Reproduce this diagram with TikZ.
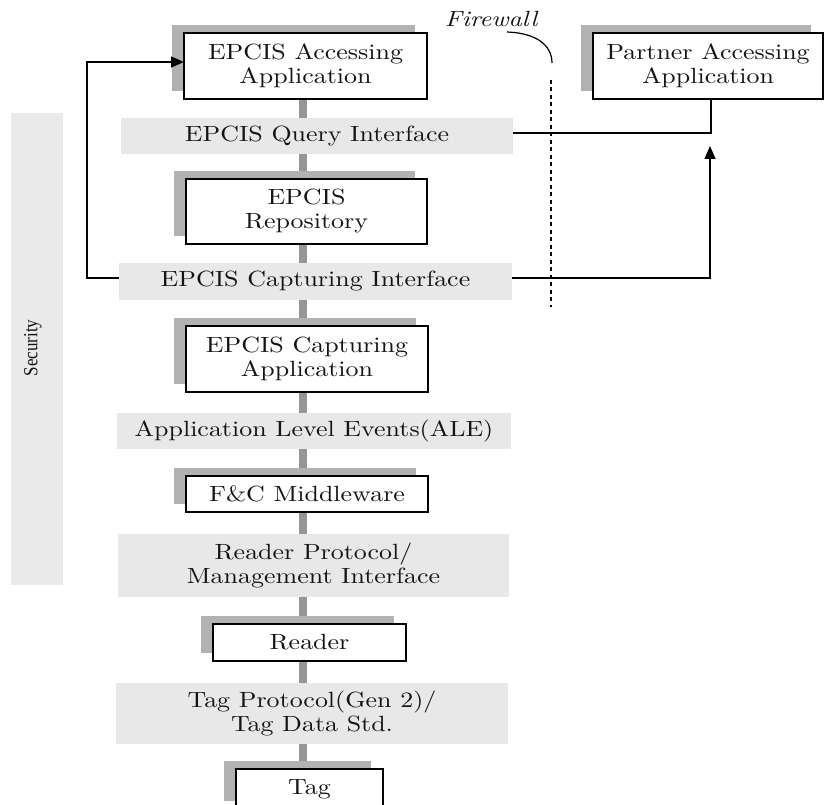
\documentclass[tikz,border=0pt]{standalone}
\usepackage{fontspec}
\setmainfont{lmroman10-regular}[Extension=.otf, FakeStretch=1.18, ItalicFont=lmroman10-italic, BoldFont=lmroman10-bold]
\newfontfamily\secfont{Liberation Serif}[FakeStretch=0.85]
\usetikzlibrary{arrows.meta, shadows, backgrounds}
\definecolor{shadowc}{RGB}{178,178,178}
\definecolor{barc}{RGB}{150,150,150}
\definecolor{bandc}{RGB}{232,232,232}
\definecolor{secc}{RGB}{234,234,234}
\definecolor{txt}{RGB}{20,20,20}
\begin{document}
\begin{tikzpicture}[x=1pt,y=-1pt,
  every node/.style={inner sep=0pt, outer sep=0pt},
  main/.style={font=\fontsize{22}{24}\selectfont, text=txt, align=center},
  appbox/.style={main, draw=black, line width=1.2pt, fill=white,
    general shadow={fill=shadowc, shadow xshift=-12pt, shadow yshift=8pt}},
  band/.style={main, fill=bandc},
  bar/.style={draw=barc, line width=8pt},
  link/.style={draw=black, line width=1.4pt},
  arr/.style={link, -{Triangle[length=13pt,width=11pt]}},
  fwline/.style={draw=black, line width=1.3pt, dash pattern=on 4pt off 3.5pt},
]
\useasboundingbox (0,0) rectangle (825,805);

% security band
\node[fill=secc, minimum width=52pt, minimum height=472pt] (sec) at (37,349) {};
\node[rotate=90, font=\secfont\fontsize{20}{20}\selectfont, text=txt] (sectxt) at (33,348) {Security};

% main stack
\node[appbox, minimum width=243pt, minimum height=66pt] (acc) at (305.5,66) {EPCIS Accessing\\Application};
\node[appbox, minimum width=230pt, minimum height=66pt] (partner) at (708,66) {Partner Accessing\\Application};
\node[band, minimum width=392pt, minimum height=36pt] (query) at (317,136) {EPCIS Query Interface};
\node[appbox, minimum width=241pt, minimum height=65pt] (repo) at (306.5,211.5) {EPCIS\\Repository};
\node[band, minimum width=393pt, minimum height=37pt] (capint) at (315.5,281.5) {EPCIS Capturing Interface};
\node[appbox, minimum width=242pt, minimum height=66pt] (capapp) at (307,359) {EPCIS Capturing\\Application};
\node[band, minimum width=394pt, minimum height=36pt] (ale) at (314,431) {Application Level Events(ALE)};
\node[appbox, minimum width=242pt, minimum height=36pt] (fc) at (307,494) {F\&C Middleware};
\node[band, minimum width=391pt, minimum height=63pt] (rp) at (313.5,565.5) {Reader Protocol/\\Management Interface};
\node[appbox, minimum width=193pt, minimum height=37pt] (reader) at (309.5,642.5) {Reader};
\node[band, minimum width=392pt, minimum height=61pt] (tp) at (312,713.5) {Tag Protocol(Gen 2)/\\Tag Data Std.};
\node[appbox, minimum width=147pt, minimum height=40pt] (tag) at (309.5,789) {Tag};

% grey connector bars
\coordinate (bx) at (303,0);
\begin{scope}[on background layer]
\foreach \a/\b in {acc/query, query/repo, repo/capint, capint/capapp, capapp/ale, ale/fc, fc/rp, rp/reader, reader/tp, tp/tag}
  \draw[bar] (\a.center -| bx) -- (\b.center -| bx);
\end{scope}

% firewall
\node[main, font=\itshape\fontsize{22}{22}\selectfont] (fw) at (491,19) {Firewall};
\coordinate (fwa) at (507,32);
\coordinate (fwb) at (552,63);
\draw[draw=black, line width=1.2pt] (fwa) .. controls (536,33) and (552,45) .. (fwb);
\coordinate (fwtop) at (551,80);
\coordinate (fwbot) at (551,307);
\draw[fwline] (fwtop) -- (fwbot);

% connectors
\draw[arr] ([yshift=3.5pt]capint.west) -- ++(-32,0) |- ([yshift=4pt]acc.west);
\coordinate (ptip) at (710,146);
\draw[arr] ([yshift=3.5pt]capint.east) -| (ptip);
\draw[link] ([yshift=3pt]query.east) -| ([xshift=3pt]partner.south);
\end{tikzpicture}
\end{document}
